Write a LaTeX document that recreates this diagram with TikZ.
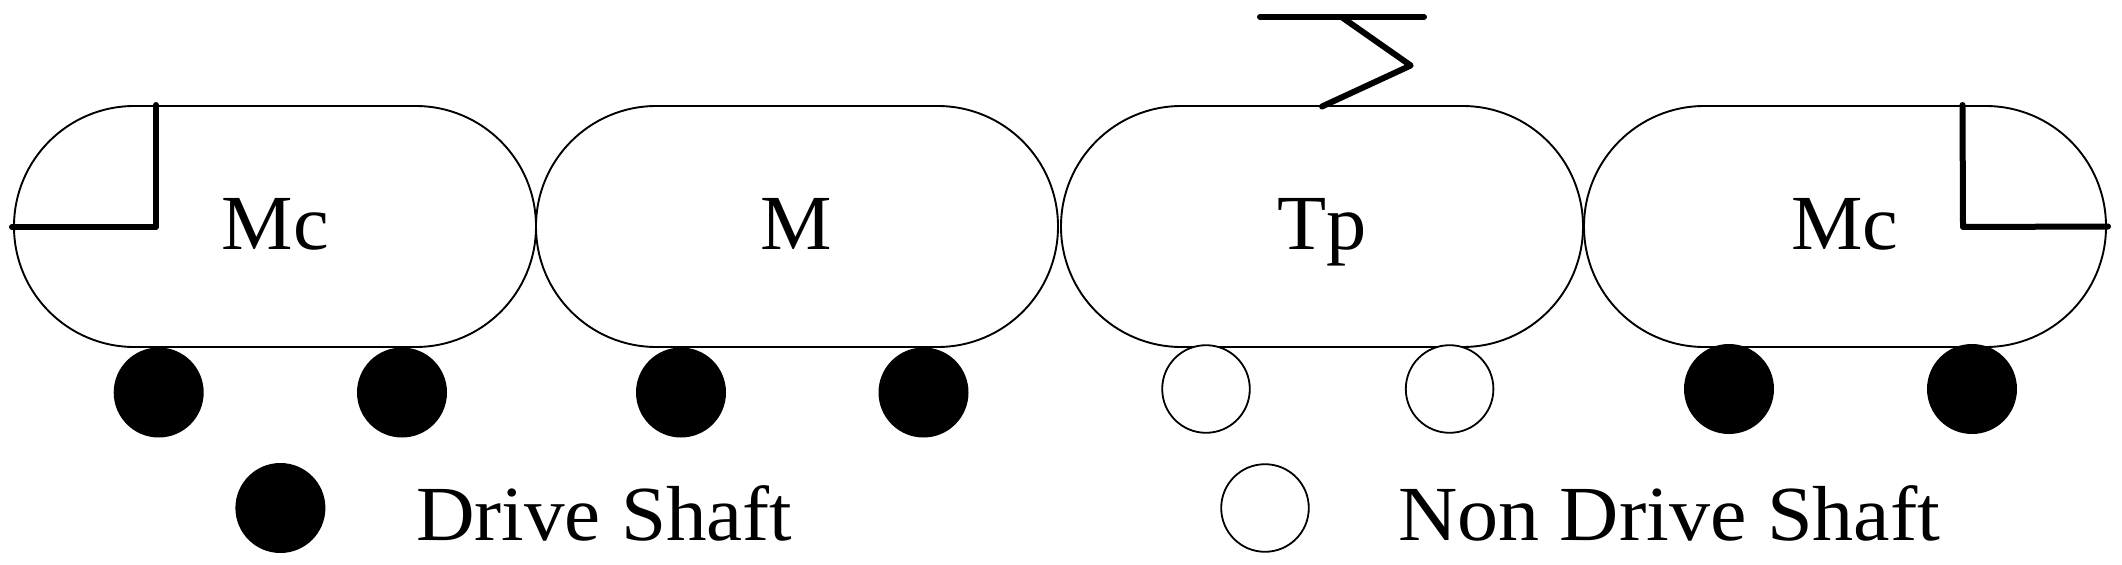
\documentclass[tikz,border=0pt]{standalone}
\usepackage{fontspec}
\setmainfont{Liberation Serif}
\tikzset{
  car/.style={draw=black,line width=1.9bp,fill=white,rounded corners=120.4bp,minimum width=522bp,minimum height=241bp,inner sep=0pt,outer sep=0pt},
  drive/.style={circle,fill=black,draw=none,minimum size=90bp,inner sep=0pt,outer sep=0pt},
  nondrive/.style={circle,fill=white,draw=black,line width=1.8bp,minimum size=87.6bp,inner sep=0pt,outer sep=0pt},
  lab/.style={anchor=base,inner sep=0pt,outer sep=0pt,text=black,font=\fontsize{78.3}{90}\selectfont},
  wire/.style={line width=6bp,line cap=round,line join=round,draw=black}
}
\begin{document}
\begin{tikzpicture}[x=1bp,y=-1bp]
\useasboundingbox (0,0) rectangle (2122,565);
% cars
\node[car] (c1) at (275,226.5) {};
\node[car] (c2) at (797,226.5) {};
\node[car] (c3) at (1322,226.5) {};
\node[car] (c4) at (1845,226.5) {};
% labels
\node[lab] (t1) at (275.5,250) {\scalebox{1.03}[1]{Mc}};
\node[lab] (t2) at (796,250) {\scalebox{1.03}[1]{M}};
\node[lab] (t3) at (1322,250) {\scalebox{1.03}[1]{Tp}};
\node[lab] (t4) at (1845,250) {\scalebox{1.03}[1]{Mc}};
% wheels
\node[drive] (w1) at (158.7,392.5) {};
\node[drive] (w2) at (402,392.5) {};
\node[drive] (w3) at (681,392.5) {};
\node[drive] (w4) at (923.5,392.5) {};
\node[nondrive] (w5) at (1206,389) {};
\node[nondrive] (w6) at (1449.6,389) {};
\node[drive] (w7) at (1729,389) {};
\node[drive] (w8) at (1972,389) {};
% legend
\node[drive] (l1) at (280.4,508) {};
\node[nondrive] (l2) at (1265,508) {};
\node[lab,anchor=base west] (t5) at (416,540) {\scalebox{1.04}[1]{Drive Shaft}};
\node[lab,anchor=base west] (t6) at (1398,540) {\scalebox{1.052}[1]{Non Drive Shaft}};
% cab lines
\coordinate (a1) at (156,105);
\coordinate (a2) at (156,227);
\coordinate (a3) at (12,227);
\draw[wire] (a1) -- (a2) -- (a3);
\coordinate (b1) at (1962.5,105);
\coordinate (b2) at (1963,227);
\coordinate (b3) at (2108,226.5);
\draw[wire] (b1) -- (b2) -- (b3);
% pantograph
\coordinate (p1) at (1260,17);
\coordinate (p2) at (1424,17);
\coordinate (p3) at (1341.5,17);
\coordinate (p4) at (1410.7,65.5);
\coordinate (p5) at (1322,106.5);
\draw[wire] (p1) -- (p2);
\draw[wire] (p3) -- (p4) -- (p5);
\end{tikzpicture}
\end{document}
